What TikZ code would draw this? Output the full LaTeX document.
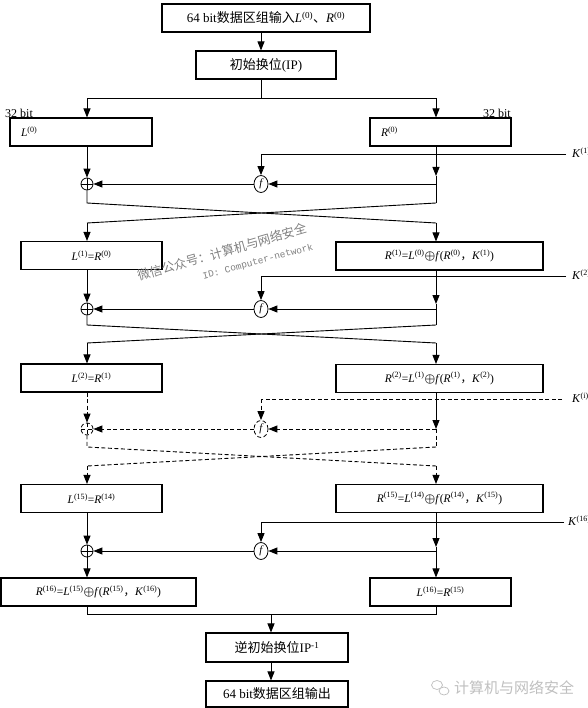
\documentclass[tikz,border=0pt]{standalone}
\usepackage{bm}
\usepackage{fontspec}
\setmainfont{Liberation Serif}
\newfontfamily\cjk{Noto Sans CJK SC}
\newfontfamily\monowm{Liberation Mono}
\usetikzlibrary{arrows.meta,shapes.geometric}
\newcommand{\myL}[1]{\textit{L}\textsuperscript{(#1)}}
\newcommand{\myR}[1]{\textit{R}\textsuperscript{(#1)}}
\newcommand{\myK}[1]{\textit{K}\textsuperscript{(#1)}}
\newcommand{\myX}{{\large$\bm{\oplus}$}}
\newcommand{\myC}{{\cjk ，}}
\begin{document}
\begin{tikzpicture}[x=1pt,y=-1pt,
  font=\fontsize{11.5}{13}\selectfont,
  box/.style={draw, line width=1.1pt, inner sep=0pt, minimum height=28pt},
  lbox/.style={box, align=left, inner xsep=11pt},
  ln/.style={line width=0.9pt},
  arr/.style={ln, -{Triangle[length=9pt,width=7pt]}},
  dsh/.style={dash pattern=on 4pt off 2.5pt},
  xorn/.style={circle, draw, line width=0.8pt, minimum size=12pt, inner sep=0pt,
    path picture={\draw[line width=0.8pt] (path picture bounding box.north) -- (path picture bounding box.south)
      (path picture bounding box.west) -- (path picture bounding box.east);}},
  fn/.style={ellipse, draw, line width=0.8pt, minimum width=14pt, minimum height=17pt, inner sep=0pt, font=\fontsize{11}{11}\selectfont\itshape},
  klab/.style={anchor=west, inner sep=0pt, font=\fontsize{12}{12}\selectfont},
  bitlab/.style={inner sep=0pt, font=\fontsize{12}{12}\selectfont}]
\useasboundingbox (0,0) rectangle (587,708);

% column coordinates
\coordinate (xl) at (87,0);
\coordinate (xr) at (436,0);
\coordinate (xf) at (261,0);

% top
\node[box, minimum width=208pt, font=\fontsize{13}{13}\selectfont] (in) at (266,18) {64 bit{\cjk 数据区组输入}\myL{0}{\cjk 、}\myR{0}};
\node[box, minimum width=140pt, font=\fontsize{13}{13}\selectfont] (ip) at (266,65) {{\cjk 初始换位}(IP)};
\coordinate (s) at (261,98);
\draw[arr] (in.south -| xf) -- (ip.north -| xf);
\draw[ln] (ip.south -| xf) -- (s);
\node[bitlab, anchor=south west] (b32l) at (5,118) {32 bit};
\node[bitlab, anchor=south east] (b32r) at (511,118) {32 bit};

\node[lbox, text width=120pt] (L0) at (81,132) {\myL{0}};
\node[lbox, text width=119pt] (R0) at (440.5,132) {\myR{0}};
\draw[arr] (s) -| (L0.north -| xl);
\draw[arr] (s) -| (R0.north -| xr);

% round 1
\node[xorn] (x1) at (87,184) {};
\node[fn] (f1) at (261,184) {f};
\coordinate (j1) at (436,184);
\coordinate (k1) at (566,154);
\coordinate (a1) at (436,176);
\coordinate (t1l) at (87,203);
\coordinate (t1r) at (436,203);
\coordinate (b1l) at (87,223);
\coordinate (b1r) at (436,223);
\node[klab] (K1) at (572,154) {\myK{1})};
\draw[arr] (k1) -| (f1.north);
\draw[arr] (L0.south -| xl) -- (x1.north);
\draw[arr] (R0.south -| xr) -- (a1);
\draw[ln] (a1) -- (t1r);
\draw[arr] (j1) -- (f1.east);
\draw[arr] (f1.west) -- (x1.east);
\draw[ln] (x1.south) -- (t1l) -- (b1r);
\draw[ln] (t1r) -- (b1l);

\node[box, minimum width=141pt] (L1) at (91.5,255.5) {\myL{1}=\myR{0}};
\node[box, minimum width=207pt] (R1) at (439.5,256) {\myR{1}=\myL{0}\myX\textit{f}(\myR{0}\myC\myK{1})};
\draw[arr] (b1l) -- (L1.north -| xl);
\draw[arr] (b1r) -- (R1.north -| xr);

% round 2
\node[xorn] (x2) at (87,309) {};
\node[fn] (f2) at (261,309) {f};
\coordinate (j2) at (436,309);
\coordinate (k2) at (566,276);
\coordinate (a2) at (436,304);
\coordinate (t2l) at (87,325);
\coordinate (t2r) at (436,325);
\coordinate (b2l) at (87,343);
\coordinate (b2r) at (436,343);
\node[klab] (K2) at (572,276) {\myK{2})};
\draw[arr] (k2) -| (f2.north);
\draw[arr] (L1.south -| xl) -- (x2.north);
\draw[arr] (R1.south -| xr) -- (a2);
\draw[ln] (a2) -- (t2r);
\draw[arr] (j2) -- (f2.east);
\draw[arr] (f2.west) -- (x2.east);
\draw[ln] (x2.south) -- (t2l) -- (b2r);
\draw[ln] (t2r) -- (b2l);

\node[box, minimum width=141pt] (L2) at (91.5,378) {\myL{2}=\myR{1}};
\node[box, minimum width=207pt] (R2) at (439.5,378.5) {\myR{2}=\myL{1}\myX\textit{f}(\myR{1}\myC\myK{2})};
\draw[arr] (b2l) -- (L2.north -| xl);
\draw[arr] (b2r) -- (R2.north -| xr);

% dashed rounds
\node[xorn, dsh] (xi) at (87,429) {};
\node[fn, dsh] (fi) at (261,429) {f};
\coordinate (ji) at (436,429);
\coordinate (ki) at (562,399);
\coordinate (ti) at (261,399);
\coordinate (til) at (87,447);
\coordinate (tir) at (436,447);
\coordinate (bil) at (87,466);
\coordinate (bir) at (436,466);
\node[klab] (Ki) at (572,399) {\myK{i})};
\draw[ln, dsh] (ki) -- (ti);
\draw[arr, dsh] (ti) -- (fi.north);
\draw[arr, dsh] (L2.south -| xl) -- (xi.north);
\draw[arr] (R2.south -| xr) -- (ji);
\draw[arr, dsh] (ji) -- (fi.east);
\draw[arr, dsh] (fi.west) -- (xi.east);
\draw[ln, dsh] (ji) -- (tir);
\draw[ln, dsh] (xi.south) -- (til) -- (bir);
\draw[ln, dsh] (tir) -- (bil);

\node[box, minimum width=141pt] (L15) at (91.5,498.5) {\myL{15}=\myR{14}};
\node[box, minimum width=207pt] (R15) at (439.5,498.5) {\myR{15}=\myL{14}\myX\textit{f}(\myR{14}\myC\myK{15})};
\draw[arr, dsh] (bil) -- (L15.north -| xl);
\draw[arr, dsh] (bir) -- (R15.north -| xr);

% round 16
\node[xorn] (x16) at (87,551) {};
\node[fn] (f16) at (261,551) {f};
\coordinate (j16) at (436,551);
\coordinate (k16) at (564,522);
\coordinate (a16) at (436,547);
\node[klab] (K16) at (568,522) {\myK{16})};
\draw[arr] (k16) -| (f16.north);
\draw[arr] (L15.south -| xl) -- (x16.north);
\draw[arr] (R15.south -| xr) -- (a16);
\draw[ln] (a16) -- (j16);
\draw[arr] (j16) -- (f16.east);
\draw[arr] (f16.west) -- (x16.east);

\node[box, minimum width=195pt] (R16) at (98.5,592) {\myR{16}=\myL{15}\myX\textit{f}(\myR{15}\myC\myK{16})};
\node[box, minimum width=141pt] (L16) at (440.5,592) {\myL{16}=\myR{15}};
\draw[arr] (x16.south) -- (R16.north -| xl);
\draw[arr] (j16) -- (L16.north -| xr);

% output
\coordinate (ml) at (87,614);
\coordinate (mr) at (436,614);
\coordinate (mc) at (271,614);
\draw[ln] (R16.south -| xl) -- (ml) -- (mr) -- (L16.south -| xr);
\node[box, minimum width=142pt, minimum height=29pt, font=\fontsize{13}{13}\selectfont] (ipi) at (277,647.5) {{\cjk 逆初始换位}IP\textsuperscript{-1}};
\node[box, minimum width=142pt, minimum height=26pt, font=\fontsize{13}{13}\selectfont] (out) at (277,694) {64 bit{\cjk 数据区组输出}};
\draw[arr] (mc) -- (ipi.north -| mc);
\draw[arr] (ipi.south -| mc) -- (out.north -| mc);

% watermarks
\node[rotate=16, text=black!50, inner sep=0pt, font=\cjk\fontsize{12.5}{12.5}\selectfont] (wm1) at (222,252) {微信公众号：计算机与网络安全};
\node[rotate=15, text=black!50, inner sep=0pt, font=\monowm\fontsize{9.5}{10}\selectfont] (wm2) at (258,262) {ID: Computer-network};
\node[text=black!25, anchor=west, inner sep=0pt, font=\cjk\fontsize{15}{15}\selectfont] (wm3) at (454,688) {计算机与网络安全};
\node[ellipse, draw=black!25, line width=0.7pt, minimum width=11pt, minimum height=9pt, inner sep=0pt] (bub1) at (437,685) {};
\node[ellipse, draw=black!25, fill=white, line width=0.7pt, minimum width=10pt, minimum height=8pt, inner sep=0pt] (bub2) at (444,691) {};
\end{tikzpicture}
\end{document}
